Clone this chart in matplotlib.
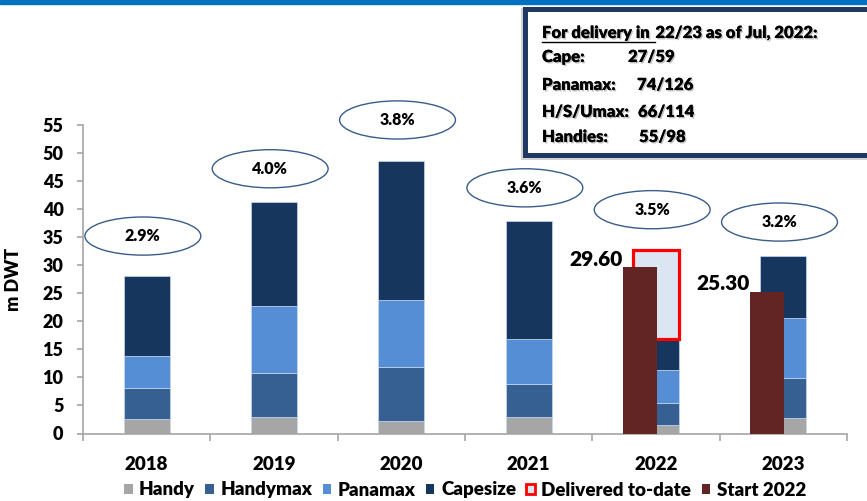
import matplotlib.pyplot as plt
import matplotlib.patheffects as pe
import numpy as np
from matplotlib.patches import Ellipse, Patch, Rectangle
from matplotlib.lines import Line2D

plt.rcParams["font.family"] = ["Lato", "DejaVu Sans"]
plt.rcParams["font.weight"] = "heavy"
WT = "heavy"

# ---- data (m DWT) ----
years = ["2018", "2019", "2020", "2021", "2022", "2023"]
handy = [2.6, 3.0, 2.2, 2.9, 1.5, 2.8]
handymax = [5.6, 7.7, 9.6, 6.0, 3.9, 7.1]
panamax = [5.7, 12.1, 12.0, 7.9, 6.0, 10.7]
capesize = [14.2, 18.4, 24.8, 21.1, 5.4, 11.0]
delivered = [0.0, 0.0, 0.0, 0.0, 16.0, 0.0]
start_years = ["2022", "2023"]
start_vals = [29.6, 25.3]
growth = ["2.9%", "4.0%", "3.8%", "3.6%", "3.5%", "3.2%"]
bubble_y = [35.2, 47.2, 55.9, 43.8, 39.9, 37.7]

box_title = ("For delivery in ", "22/23 as of Jul, 2022:")
box_rows = [("Cape:", "27/59"), ("Panamax:", "74/126"),
            ("H/S/Umax:", "66/114"), ("Handies:", "55/98")]

C_HANDY = "#A6A6A6"
C_HMAX = "#376092"
C_PMAX = "#558ED5"
C_CAPE = "#17365D"
C_DELIV = "#DCE6F2"
C_START = "#632523"

W, H = 867, 501
fig = plt.figure(figsize=(W / 100, H / 100), dpi=100)
ax = fig.add_axes([83 / W, 1 - 433.5 / H, 764 / W, 308.5 / H])

x = np.arange(len(years))
bw = 0.36
bottom = np.zeros(len(years))
for vals, col in [(handy, C_HANDY), (handymax, C_HMAX), (panamax, C_PMAX), (capesize, C_CAPE)]:
    ax.bar(x, vals, bw, bottom=bottom, color=col, edgecolor="#C6D9F1", linewidth=0.5, zorder=2)
    bottom += np.asarray(vals)

dv = np.asarray(delivered)
m = dv > 0
ax.bar(x[m], dv[m], bw, bottom=bottom[m], color=C_DELIV, edgecolor="#FF0000",
       linewidth=2.3, zorder=2)

sx = np.array([years.index(y) for y in start_years]) - 0.126
ax.bar(sx, start_vals, 0.268, color=C_START, zorder=3)
for xx, v in zip(sx, start_vals):
    ax.text(xx - 0.134 - 0.005, v + 1.4, f"{v:.2f}", ha="right", va="center",
            fontsize=15, fontweight=WT, zorder=4)

for xi, yb, g in zip(x, bubble_y, growth):
    ax.add_patch(Ellipse((xi - 0.03, yb), 0.91, 6.8, facecolor="white",
                         edgecolor="#385D8A", linewidth=1.0, clip_on=False, zorder=4))
    ax.text(xi - 0.03, yb, g, ha="center", va="center", fontsize=11.5,
            fontweight=WT, zorder=5)

ax.set_xlim(-0.5, len(years) - 0.5)
ax.set_ylim(0, 55)
ax.set_yticks(np.arange(0, 56, 5))
ax.set_xticks(x, years)
ax.set_xticks(np.arange(-0.5, len(years), 1.0), minor=True)
ax.tick_params(axis="x", which="major", length=0, pad=16, labelsize=13.5)
ax.tick_params(axis="x", which="minor", length=5, color="#A6A6A6", width=1.2)
ax.tick_params(axis="y", length=4, color="#A6A6A6", width=1.2, pad=10, labelsize=13)
for s in ("top", "right"):
    ax.spines[s].set_visible(False)
for s in ("left", "bottom"):
    ax.spines[s].set_color("#A6A6A6")
    ax.spines[s].set_linewidth(1.2)
ax.set_ylabel("m DWT", fontsize=13, fontweight=WT)
ax.yaxis.set_label_coords(-0.080, 0.5)

handles = [Patch(facecolor=C_HANDY), Patch(facecolor=C_HMAX), Patch(facecolor=C_PMAX),
           Patch(facecolor=C_CAPE), Patch(facecolor=C_DELIV, edgecolor="#FF0000", linewidth=2),
           Patch(facecolor=C_START)]
labels = ["Handy", "Handymax", "Panamax", "Capesize", "Delivered to-date", "Start 2022"]
fig.legend(handles, labels, loc="center", bbox_to_anchor=(465 / W, 1 - 490 / H), ncol=6,
           frameon=False, prop={"size": 13.5, "weight": WT}, handlelength=0.45,
           handleheight=0.45, handletextpad=0.35, columnspacing=0.55, borderaxespad=0)

# top band
fig.add_artist(Rectangle((0, 1 - 4 / H), 1, 4 / H, transform=fig.transFigure,
                         color="#0070C0", zorder=10))

# orderbook box
fig.add_artist(Rectangle((521 / W, 1 - 160 / H), 360 / W, 152 / H, transform=fig.transFigure,
                         facecolor="#7F7F7F", edgecolor="none", alpha=0.35, zorder=10))
fig.add_artist(Rectangle((524.5 / W, 1 - 154.5 / H), 360 / W, 146 / H, transform=fig.transFigure,
                         facecolor="white", edgecolor="#1F3864", linewidth=3.6, zorder=11))

shadow = [pe.withSimplePatchShadow(offset=(1, -1), shadow_rgbFace="#808080", alpha=0.5),
          pe.Normal()]
fs_box = 12
tx0 = 542 / W
t1 = fig.text(tx0, 1 - 33 / H, box_title[0], fontsize=fs_box, fontweight=WT,
              va="center", zorder=12, path_effects=shadow)
fig.canvas.draw()
bb = t1.get_window_extent()
x_next = bb.x1 + 2
fig.text(x_next / W, 1 - 33 / H, box_title[1], fontsize=fs_box, fontweight=WT,
         va="center", zorder=12, path_effects=shadow)
fig.add_artist(Line2D([bb.x0 / W, x_next / W], [(bb.y0 - 1) / H] * 2, transform=fig.transFigure,
                      color="black", linewidth=1.0, zorder=12))

row_y = [57, 85, 112, 137]
val_x = [628, 637, 638, 639]
for (lab, val), yy, vx in zip(box_rows, row_y, val_x):
    fig.text(tx0, 1 - yy / H, lab, fontsize=fs_box, fontweight=WT, va="center",
             zorder=12, path_effects=shadow)
    fig.text(vx / W, 1 - yy / H, val, fontsize=fs_box, fontweight=WT, va="center",
             zorder=12, path_effects=shadow)

fig.savefig("out.png", dpi=100)
